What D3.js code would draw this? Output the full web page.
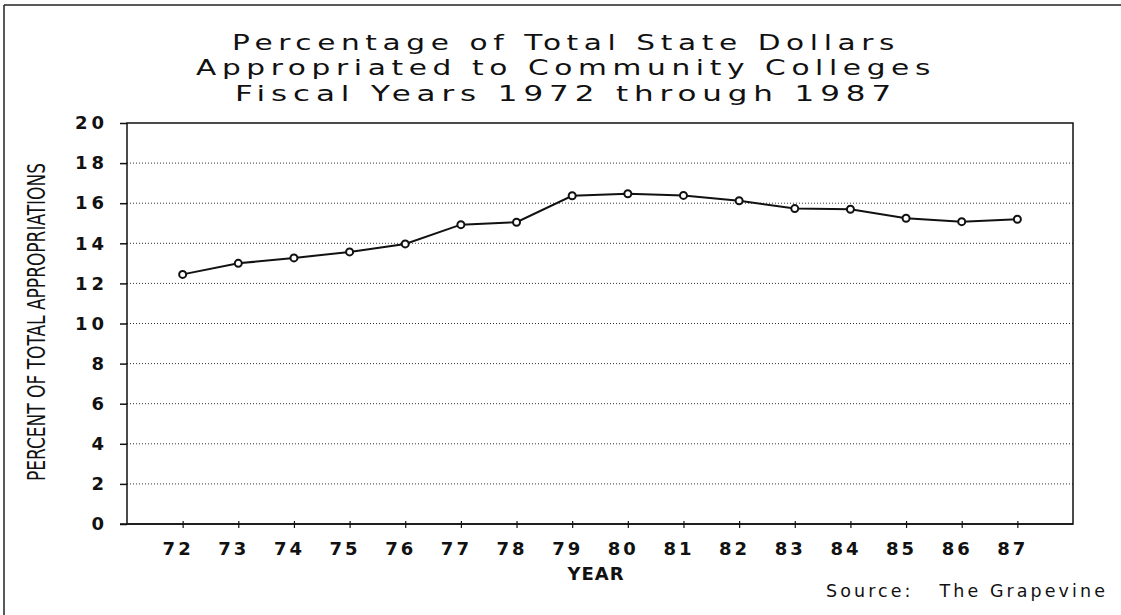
<!DOCTYPE html>
<html>
<head>
<meta charset="utf-8">
<script src="https://cdn.jsdelivr.net/npm/d3@7"></script>
<style>
	body { margin:0; background:#fff; }
	svg text { fill:#111; }
	.grid line { stroke:#333; stroke-width:1; stroke-dasharray:1,2; }
	.tickLabel { font-family:"DejaVu Sans", sans-serif; font-weight:bold; }
</style>
</head>
<body>
<svg id="myGraph" width="1121" height="615"></svg>
<script>
// 데이터
var years = [72,73,74,75,76,77,78,79,80,81,82,83,84,85,86,87];
var percents = [12.45,13.0,13.27,13.57,13.97,14.93,15.05,16.37,16.47,16.39,16.12,15.73,15.7,15.25,15.08,15.2];
var yTicks = [0,2,4,6,8,10,12,14,16,18,20];
var titleLines = ["Percentage of Total State Dollars", "Appropriated to Community Colleges", "Fiscal Years 1972 through 1987"];

window.addEventListener("load",function(){

	var svg = d3.select("#myGraph");
	var left = 127, right = 1073, top = 123, bottom = 524;

	var xScale = d3.scaleLinear().domain([71,88]).range([left,right]);
	var yScale = d3.scaleLinear().domain([0,20]).range([bottom,top]);

	// 바깥 테두리 (왼쪽, 위)
	svg.append("line").attr("x1",4).attr("y1",5).attr("x2",1121).attr("y2",5)
		.attr("stroke","#222").attr("stroke-width",1.5);
	svg.append("line").attr("x1",4).attr("y1",5).attr("x2",4).attr("y2",615)
		.attr("stroke","#222").attr("stroke-width",1.5);

	// 제목 (넓은 글꼴 느낌으로 늘려서 표시)
	var titleY = [50,75,101];
	var titleLen = [668,740,662];
	svg.selectAll("text.title").data(titleLines).enter()
		.append("text").attr("class","title")
		.attr("x",566).attr("y",function(d,i){ return titleY[i]; })
		.attr("text-anchor","middle")
		.attr("textLength",function(d,i){ return titleLen[i]; })
		.attr("lengthAdjust","spacingAndGlyphs")
		.style("font-family","DejaVu Sans, sans-serif")
		.style("font-size","21px")
		.style("letter-spacing","4px")
		.text(function(d){ return d; });

	// 점선 그리드
	svg.append("g").attr("class","grid")
		.selectAll("line").data(yTicks.filter(function(d){ return d>0 && d<20; })).enter()
		.append("line")
		.attr("x1",left).attr("x2",right)
		.attr("y1",function(d){ return yScale(d); })
		.attr("y2",function(d){ return yScale(d); });

	// 그래프 틀
	svg.append("rect").attr("x",left).attr("y",top)
		.attr("width",right-left).attr("height",bottom-top)
		.attr("fill","none").attr("stroke","#111").attr("stroke-width",1.5);

	// 세로축
	var yAxis = d3.axisLeft(yScale).tickValues(yTicks).tickSize(7).tickPadding(12);
	var gy = svg.append("g").attr("transform","translate("+left+",0)").call(yAxis);
	gy.select(".domain").remove();
	gy.selectAll(".tick line").attr("stroke","#111").attr("stroke-width",1.5);
	gy.selectAll(".tick text").attr("class","tickLabel")
		.style("font-size","18px").style("letter-spacing","4px");

	// 가로축
	var xAxis = d3.axisBottom(xScale).tickValues(years).tickSize(4).tickPadding(14);
	var gx = svg.append("g").attr("transform","translate(0,"+bottom+")").call(xAxis);
	gx.select(".domain").attr("d","M"+(left-7)+",0H"+right).attr("stroke","#111").attr("stroke-width",1.5);
	gx.selectAll(".tick line").attr("y1",-3).attr("stroke","#111").attr("stroke-width",1.2);
	gx.selectAll(".tick text").attr("class","tickLabel")
		.attr("dx",-5)
		.style("font-size","18px").style("letter-spacing","3px");

	// 축 이름
	svg.append("text").attr("x",596).attr("y",580).attr("text-anchor","middle")
		.attr("class","tickLabel").style("font-size","18px").style("letter-spacing","1px")
		.text("YEAR");
	svg.append("text")
		.attr("transform","translate(45,322) rotate(-90)")
		.attr("text-anchor","middle")
		.attr("textLength",318).attr("lengthAdjust","spacingAndGlyphs")
		.style("font-family","Liberation Sans Narrow, DejaVu Sans Condensed, sans-serif")
		.style("font-size","24px")
		.text("PERCENT OF TOTAL APPROPRIATIONS");

	// 꺾은선
	var line = d3.line()
		.x(function(d,i){ return xScale(years[i]); })
		.y(function(d){ return yScale(d); });
	svg.append("path").datum(percents)
		.attr("d",line).attr("fill","none")
		.attr("stroke","#111").attr("stroke-width",2);
	svg.selectAll("circle").data(percents).enter()
		.append("circle")
		.attr("cx",function(d,i){ return xScale(years[i]); })
		.attr("cy",function(d){ return yScale(d); })
		.attr("r",3.5)
		.attr("fill","#fff").attr("stroke","#111").attr("stroke-width",2);

	// 출처 (공백 유지)
	svg.append("text").attr("x",1108).attr("y",597).attr("text-anchor","end")
		.style("font-family","DejaVu Sans, sans-serif").style("font-size","17px")
		.style("letter-spacing","3px").style("white-space","pre")
		.attr("textLength",282).attr("lengthAdjust","spacingAndGlyphs")
		.text("Source:   The Grapevine");

});	// addEventListener() end
</script>
</body>
</html>
